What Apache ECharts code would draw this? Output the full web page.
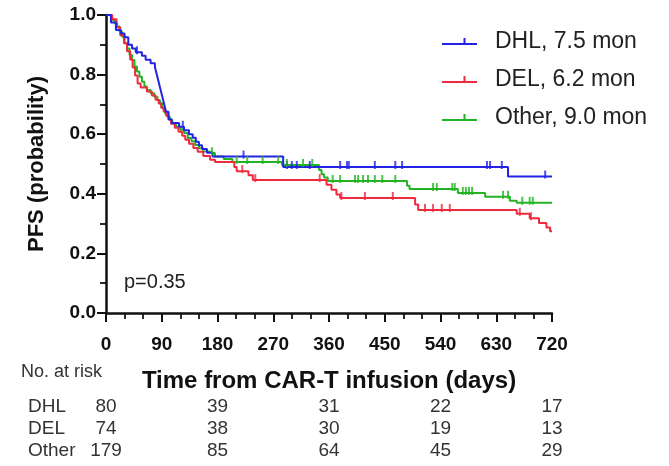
<!DOCTYPE html>
<html>
<head>
<meta charset="utf-8">
<script src="https://cdn.jsdelivr.net/npm/echarts@6/dist/echarts.min.js"></script>
<style>
  html, body { margin: 0; padding: 0; background: #ffffff; }
  #chart { width: 669px; height: 466px; }
</style>
</head>
<body>
<div id="chart"></div>
<script>
// Kaplan–Meier PFS estimates: [day, survival after the event on that day]
const dhlCurve = [[0,1],[8,0.975],[16,0.95],[24,0.938],[30,0.925],[36,0.9],[42,0.888],[48,0.875],[58,0.863],[64,0.85],[72,0.838],[79,0.825],[82,0.8],[85,0.775],[88,0.75],[91,0.725],[94,0.7],[97,0.675],[101,0.65],[106,0.638],[118,0.625],[126,0.613],[134,0.6],[140,0.588],[145,0.575],[150,0.563],[155,0.55],[163,0.538],[172,0.525],[286,0.49],[649,0.458],[720,0.458]];
const delCurve = [[0,1],[10,0.986],[17,0.959],[23,0.932],[29,0.905],[34,0.878],[39,0.851],[43,0.824],[47,0.797],[51,0.77],[56,0.757],[66,0.743],[74,0.73],[80,0.716],[85,0.703],[89,0.689],[93,0.676],[97,0.662],[101,0.649],[105,0.635],[111,0.622],[117,0.608],[123,0.595],[128,0.581],[134,0.568],[141,0.554],[148,0.541],[157,0.527],[168,0.514],[176,0.507],[207,0.49],[211,0.476],[230,0.462],[237,0.446],[356,0.43],[364,0.414],[372,0.398],[378,0.386],[499,0.364],[504,0.346],[663,0.333],[684,0.318],[699,0.302],[711,0.287],[717,0.274],[720,0.274]];
const otherCurve = [[0,1],[6,0.994],[10,0.983],[14,0.972],[18,0.961],[22,0.944],[26,0.927],[30,0.905],[34,0.888],[38,0.866],[42,0.849],[46,0.827],[50,0.81],[54,0.793],[58,0.776],[62,0.76],[66,0.748],[72,0.737],[78,0.726],[83,0.715],[87,0.704],[91,0.687],[95,0.67],[99,0.659],[103,0.648],[107,0.637],[113,0.626],[120,0.615],[126,0.604],[132,0.587],[138,0.576],[144,0.564],[150,0.553],[157,0.542],[166,0.536],[176,0.525],[190,0.517],[204,0.507],[284,0.497],[344,0.48],[348,0.466],[352,0.455],[358,0.443],[486,0.427],[490,0.416],[568,0.403],[612,0.39],[652,0.377],[663,0.37],[720,0.37]];

// Censoring times (days)
const dhlCensor = [50,124,222,292,300,308,329,378,389,392,434,467,478,615,620,639,709];
const delCensor = [220,241,345,380,418,463,515,528,542,555,668,686];
const otherCensor = [171,211,228,253,278,292,318,333,366,378,402,407,415,423,434,446,467,528,534,559,563,576,581,586,591,641,649,672,684,689];

// Legend labels (median PFS)
const legendNames = ['DHL, 7.5 mon', 'DEL, 6.2 mon', 'Other, 9.0 mon'];
const groupLabels = ['DHL', 'DEL', 'Other'];

// Number at risk table
const riskTimes = [0, 180, 360, 540, 720];
const dhlRisk = [80, 39, 31, 22, 17];
const delRisk = [74, 38, 30, 19, 13];
const otherRisk = [179, 85, 64, 45, 29];

const pValueText = 'p=0.35';
const xTitle = 'Time from CAR-T infusion (days)';
const yTitle = 'PFS (probability)';

const colors = ['#2323e6', '#ee2a3c', '#22b422'];
const FONT = '"Liberation Sans", Arial, Helvetica, sans-serif';

// step-function lookup used to place the censor ticks on their curve
function survivalAt(curve, t) {
  let s = curve[0][1];
  for (const [d, v] of curve) { if (d <= t) s = v; else break; }
  return s;
}
const censorPoints = (curve, times) => times.map(t => [t, survivalAt(curve, t)]);

const curves = [dhlCurve, delCurve, otherCurve];
const censors = [dhlCensor, delCensor, otherCensor];
const risks = [dhlRisk, delRisk, otherRisk];

// legend glyph: short line with a censor tick, plus a hair-size dot that widens the box
const legendIcon = 'path://M0,6h35v2h-35z M21.5,1h2v7h-2z M47.9,6h0.1v0.1h-0.1z';

const series = [];
curves.forEach((c, i) => {
  series.push({
    name: legendNames[i], type: 'line', step: 'end', data: c,
    showSymbol: false, symbol: 'none', z: 3 - i,
    lineStyle: { color: colors[i], width: 2 }, itemStyle: { color: colors[i] },
    emphasis: { disabled: true }
  });
});
curves.forEach((c, i) => {
  series.push({
    name: groupLabels[i] + ' censored', type: 'scatter', data: censorPoints(c, censors[i]),
    symbol: 'rect', symbolSize: [2, 8], symbolOffset: [0, -2], z: 4,
    itemStyle: { color: colors[i] }, emphasis: { disabled: true }, silent: true
  });
});

const chart = echarts.init(document.getElementById('chart'), null, { renderer: 'canvas' });
chart.setOption({
  animation: false,
  backgroundColor: '#ffffff',
  grid: { left: 106, right: 117, top: 15, bottom: 153, containLabel: false },
  legend: {
    data: legendNames, orient: 'vertical', left: 437, top: 25,
    itemWidth: 48, itemHeight: 12, itemGap: 15, icon: legendIcon,
    textStyle: { fontFamily: FONT, fontSize: 23, color: '#222' },
    selectedMode: false
  },
  xAxis: {
    type: 'value', min: 0, max: 720, interval: 90,
    name: xTitle, nameLocation: 'middle', nameGap: 56,
    nameTextStyle: { fontFamily: FONT, fontSize: 24, fontWeight: 'bold', color: '#111' },
    axisLine: { show: true, onZero: false, lineStyle: { color: '#111', width: 2.5 } },
    axisTick: { show: true, length: 9, lineStyle: { color: '#111', width: 2 } },
    minorTick: { show: true, splitNumber: 3, length: 6, lineStyle: { color: '#111', width: 1.8 } },
    axisLabel: { fontFamily: FONT, fontSize: 19, fontWeight: 'bold', color: '#111', margin: 22 },
    splitLine: { show: false }
  },
  yAxis: {
    type: 'value', min: 0, max: 1, interval: 0.2,
    name: yTitle, nameLocation: 'middle', nameGap: 58, nameRotate: 90,
    nameTextStyle: { fontFamily: FONT, fontSize: 22, fontWeight: 'bold', color: '#111' },
    axisLine: { show: true, onZero: false, lineStyle: { color: '#111', width: 2.5 } },
    axisTick: { show: true, length: 9, lineStyle: { color: '#111', width: 2 } },
    minorTick: { show: true, splitNumber: 2, length: 6, lineStyle: { color: '#111', width: 1.8 } },
    axisLabel: { fontFamily: FONT, fontSize: 19, fontWeight: 'bold', color: '#111', margin: 10,
                 formatter: v => v.toFixed(1) },
    splitLine: { show: false }
  },
  series: series
});

// p-value, "No. at risk" header and the risk table placed on the x scale
const px = d => chart.convertToPixel({ xAxisIndex: 0 }, d);
const pyv = v => chart.convertToPixel({ yAxisIndex: 0 }, v);
const graphics = [];
graphics.push({ type: 'text', x: 124, y: pyv(0.1) - 1,
  style: { text: pValueText, font: '20px ' + FONT, fill: '#222', textVerticalAlign: 'middle' } });
graphics.push({ type: 'text', x: 21, y: 372,
  style: { text: 'No. at risk', font: '18px ' + FONT, fill: '#333', textVerticalAlign: 'middle' } });
const rowY = [407, 429, 451];
risks.forEach((row, r) => {
  graphics.push({ type: 'text', x: 28, y: rowY[r],
    style: { text: groupLabels[r], font: '19px ' + FONT, fill: '#333', textVerticalAlign: 'middle' } });
  row.forEach((n, k) => {
    graphics.push({ type: 'text', x: px(riskTimes[k]), y: rowY[r],
      style: { text: String(n), font: '19px ' + FONT, fill: '#333',
               textAlign: 'center', textVerticalAlign: 'middle' } });
  });
});
chart.setOption({ graphic: graphics });
</script>
</body>
</html>
